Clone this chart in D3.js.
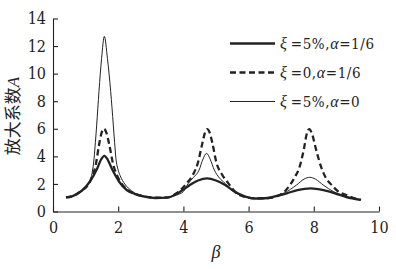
<!DOCTYPE html>
<html><head><meta charset="utf-8">
<script src="https://cdn.jsdelivr.net/npm/d3@7"></script>
<style>body{margin:0;background:#fff}svg{display:block}</style>
</head><body>
<script>
const xTicks=[0,2,4,6,8,10];
const yTicks=[0,2,4,6,8,10,12,14];
const thickBeta=[0.4,0.6,0.88,1.13,1.36,1.47,1.575,1.68,1.8,2.03,2.26,2.5,2.8,3.14,3.5,3.84,4.2,4.45,4.73,5.0,5.28,5.58,5.9,6.2,6.6,6.9,7.17,7.5,7.9,8.3,8.65,9.0,9.42];
const thickA=[1.02,1.12,1.5,2.16,3.13,3.75,4.04,3.75,3.13,2.16,1.56,1.28,1.08,0.98,1.0,1.35,1.92,2.25,2.4,2.25,1.92,1.43,1.08,0.93,0.98,1.15,1.32,1.55,1.68,1.55,1.32,1.05,0.85];
const dashBeta=[0.4,0.6,0.88,1.05,1.13,1.22,1.31,1.41,1.49,1.565,1.64,1.73,1.85,1.95,2.03,2.26,2.5,2.8,3.14,3.5,3.79,4.1,4.3,4.44,4.58,4.66,4.73,4.81,4.89,5.02,5.18,5.38,5.63,5.9,6.2,6.6,6.96,7.27,7.42,7.55,7.7,7.78,7.86,7.95,8.06,8.24,8.38,8.55,8.75,9.0,9.2,9.45];
const dashA=[1.02,1.12,1.52,1.85,2.15,2.65,3.37,4.8,5.7,6.0,5.7,4.8,3.37,2.7,2.3,1.62,1.3,1.1,1.0,1.02,1.32,2.04,2.7,3.49,4.94,5.7,5.98,5.7,4.94,3.49,2.7,2.04,1.32,1.05,0.95,0.98,1.2,1.92,2.5,3.13,4.58,5.6,5.98,5.6,4.58,3.13,2.4,1.92,1.45,1.2,1.0,0.85];
const thinBeta=[0.4,0.6,0.88,1.05,1.13,1.2,1.26,1.3,1.34,1.41,1.49,1.575,1.67,1.77,1.85,1.89,1.93,2.0,2.06,2.2,2.31,2.5,2.8,3.14,3.5,3.8,4.0,4.15,4.3,4.48,4.6,4.71,4.82,4.95,5.1,5.28,5.5,5.8,6.1,6.4,6.8,7.1,7.47,7.7,7.88,8.05,8.29,8.6,8.9,9.2,9.42];
const thinA=[1.02,1.12,1.55,1.85,2.2,2.8,3.85,5.0,6.27,8.7,11.1,12.7,11.1,8.7,6.27,5.0,3.85,3.0,2.6,2.0,1.7,1.35,1.12,1.0,1.02,1.2,1.45,2.04,2.45,3.0,3.8,4.22,3.8,3.0,2.45,2.04,1.5,1.15,0.98,0.96,1.1,1.35,1.92,2.35,2.48,2.35,1.92,1.45,1.15,0.97,0.88];
const legendLabels=[["5%","1/6"],["0","1/6"],["5%","0"]];

const W=396,H=269;
const svg=d3.select("body").append("svg").attr("width",W).attr("height",H);
const x=d3.scaleLinear().domain([0,10]).range([53,379]);
const y=d3.scaleLinear().domain([0,14]).range([211.5,18.5]);
const ink="#222";
const numFont='"DejaVu Serif Condensed","DejaVu Serif",serif';
const serif='"Liberation Serif","Times New Roman",serif';

// axes
const xa=svg.append("g").attr("transform",`translate(0,${y(0)})`)
  .call(d3.axisBottom(x).tickValues(xTicks).tickSizeInner(-5).tickSizeOuter(0).tickPadding(9));
const ya=svg.append("g").attr("transform",`translate(${x(0)},0)`)
  .call(d3.axisLeft(y).tickValues(yTicks).tickSizeInner(-5).tickSizeOuter(0).tickPadding(7));
[xa,ya].forEach(g=>{
  g.attr("font-family",null).attr("font-size",null);
  g.selectAll("path,line").attr("stroke",ink).attr("stroke-width",1.1);
  g.selectAll("text").style("font-family",numFont).style("font-size","16px")
    .style("font-stretch","condensed").attr("fill",ink);
});
xa.selectAll("text").attr("dy","0.75em");

// curves
const line=d3.line().x(d=>x(d[0])).y(d=>y(d[1])).curve(d3.curveMonotoneX);
const series=[
  {b:thinBeta,a:thinA,w:1,dash:null},
  {b:dashBeta,a:dashA,w:2.3,dash:"6,3.5"},
  {b:thickBeta,a:thickA,w:2.3,dash:null}
];
series.forEach(s=>{
  svg.append("path").datum(s.b.map((b,i)=>[b,s.a[i]]))
    .attr("d",line).attr("fill","none").attr("stroke",ink)
    .attr("stroke-width",s.w).attr("stroke-dasharray",s.dash);
});

// legend
const legStyles=[{w:2.3,dash:null},{w:2.3,dash:"6,3.5"},{w:1,dash:null}];
const legY=[43.5,72.5,101.5];
legendLabels.forEach((l,i)=>{
  svg.append("line").attr("x1",230).attr("x2",275).attr("y1",legY[i]).attr("y2",legY[i])
    .attr("stroke",ink).attr("stroke-width",legStyles[i].w).attr("stroke-dasharray",legStyles[i].dash);
  const t=svg.append("text").attr("x",280).attr("y",legY[i]+5.5)
    .style("font-family",numFont).style("font-stretch","condensed").style("font-size","15px")
    .style("letter-spacing","0.6px").attr("fill",ink);
  t.append("tspan").style("font-family",serif).style("font-style","italic").style("font-size","16px").text("ξ");
  t.append("tspan").text("\u2009="+l[0]+",");
  t.append("tspan").style("font-family",serif).style("font-style","italic").style("font-size","16px").text("α");
  t.append("tspan").text("="+l[1]);
});

// axis titles
svg.append("text").attr("transform","translate(19,116) rotate(-90)")
  .attr("text-anchor","middle").style("font-size","17px").attr("fill",ink)
  .style("font-family",'"Noto Sans CJK SC",sans-serif')
  .call(t=>{t.append("tspan").text("放大系数");
    t.append("tspan").style("font-family",serif).style("font-style","italic").text("A");});
svg.append("text").attr("x",216).attr("y",258).attr("text-anchor","middle")
  .style("font-family",serif).style("font-style","italic").style("font-size","18px").attr("fill",ink).text("β");
</script>
</body></html>
